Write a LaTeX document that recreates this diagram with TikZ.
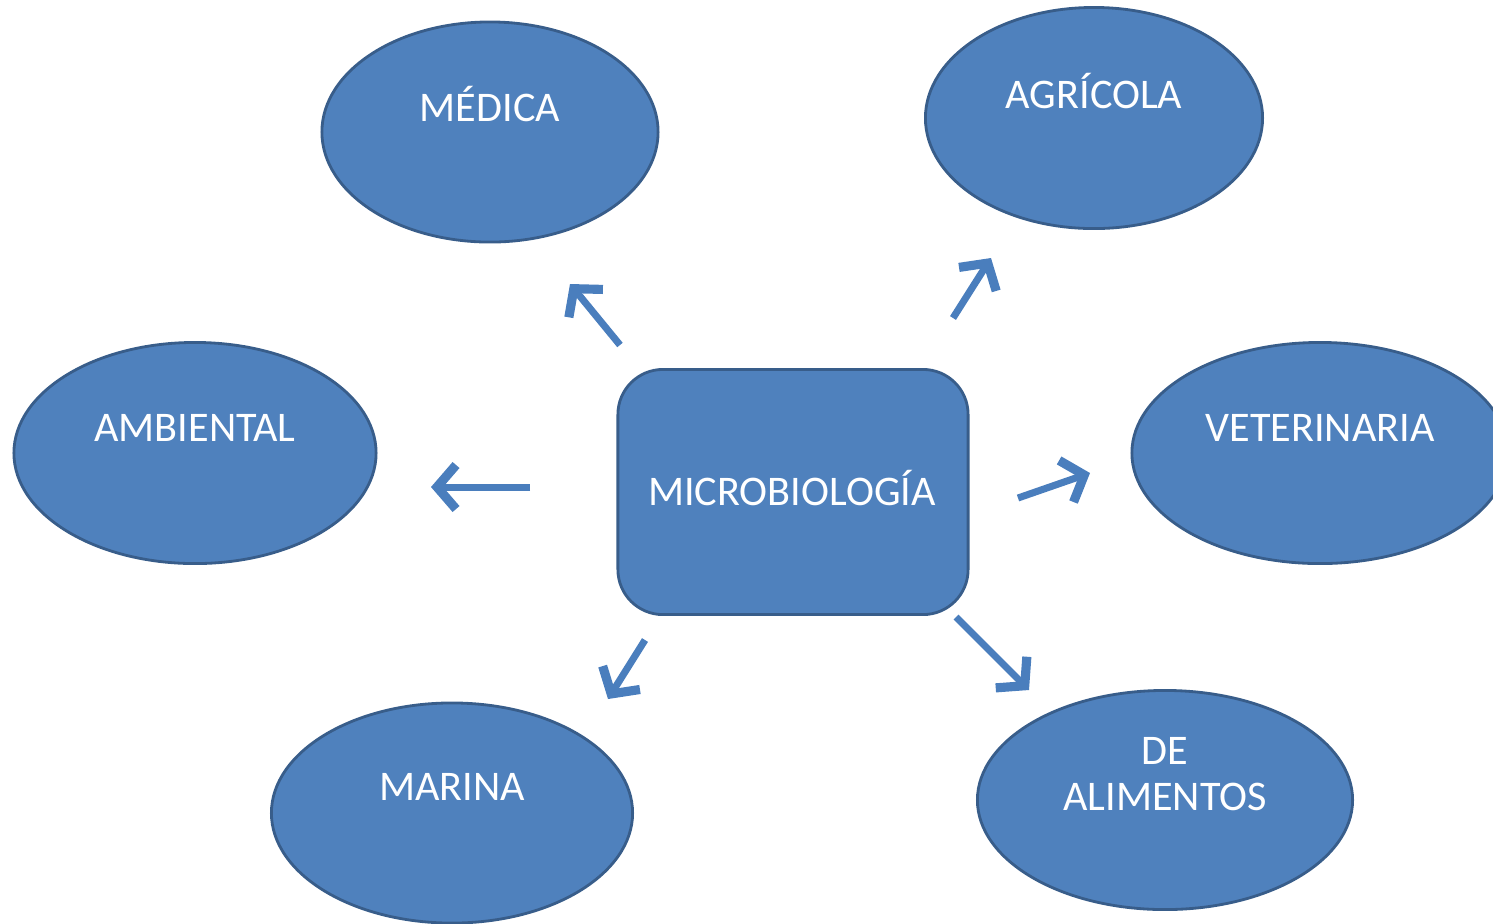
\documentclass[tikz,border=0pt]{standalone}
\usepackage{fontspec}
\setmainfont{Carlito}
\usetikzlibrary{shapes.geometric,arrows.meta}
\definecolor{boxfill}{HTML}{4F81BD}
\definecolor{boxline}{HTML}{385D8A}
\definecolor{arrowcol}{HTML}{4A7EBD}
\begin{document}
\begin{tikzpicture}[x=0.01cm,y=-0.01cm,
  oval/.style={ellipse,draw=boxline,fill=boxfill,line width=0.8pt,inner sep=0pt},
  lbl/.style={text=white,font=\fontsize{12}{14}\selectfont,align=center,inner sep=0pt},
  arr/.style={draw=arrowcol,line width=2pt,-{Straight Barb[length=1.9mm,width=4.4mm,line width=2.6pt]}}]
\useasboundingbox (0,0) rectangle (1493,923);
\clip (0,0) rectangle (1493,923);
% ellipses
\node[oval,minimum width=3.36cm,minimum height=2.2cm] (medica) at (490,132) {};
\node[oval,minimum width=3.37cm,minimum height=2.21cm] (agricola) at (1094,118) {};
\node[oval,minimum width=3.62cm,minimum height=2.21cm] (ambiental) at (195,453) {};
\node[oval,minimum width=3.76cm,minimum height=2.21cm] (veterinaria) at (1320,453) {};
\node[oval,minimum width=3.61cm,minimum height=2.2cm] (marina) at (452,813) {};
\node[oval,minimum width=3.75cm,minimum height=2.19cm] (alimentos) at (1165,800) {};
% central box
\node[draw=boxline,fill=boxfill,line width=0.8pt,rounded corners=0.45cm,minimum width=3.5cm,minimum height=2.45cm,inner sep=0pt] (micro) at (793,492) {};
% labels
\node[lbl] (microT) at (792,488) {MICROBIOLOGÍA};
\node[lbl] (medicaT) at (490,104) {MÉDICA};
\node[lbl] (agricolaT) at (1094,91) {AGRÍCOLA};
\node[lbl] (ambientalT) at (195,428) {AMBIENTAL};
\node[lbl] (veterinariaT) at (1320,428) {VETERINARIA};
\node[lbl] (marinaT) at (452,787) {MARINA};
\node[lbl] (alimentosT) at (1165,774) {DE\\[-1pt]ALIMENTOS};
% arrow end points
\coordinate (a1s) at (620,345); \coordinate (a1e) at (570,284);
\coordinate (a2s) at (953,318); \coordinate (a2e) at (991,258);
\coordinate (a3s) at (530,487); \coordinate (a3e) at (431,487);
\coordinate (a4s) at (1018,498); \coordinate (a4e) at (1090,473);
\coordinate (a5s) at (645,640); \coordinate (a5e) at (608,699);
\coordinate (a6s) at (956,617); \coordinate (a6e) at (1029,690);
\draw[arr] (a1s) -- (a1e);
\draw[arr] (a2s) -- (a2e);
\draw[arr] (a3s) -- (a3e);
\draw[arr] (a4s) -- (a4e);
\draw[arr] (a5s) -- (a5e);
\draw[arr] (a6s) -- (a6e);
\end{tikzpicture}
\end{document}
